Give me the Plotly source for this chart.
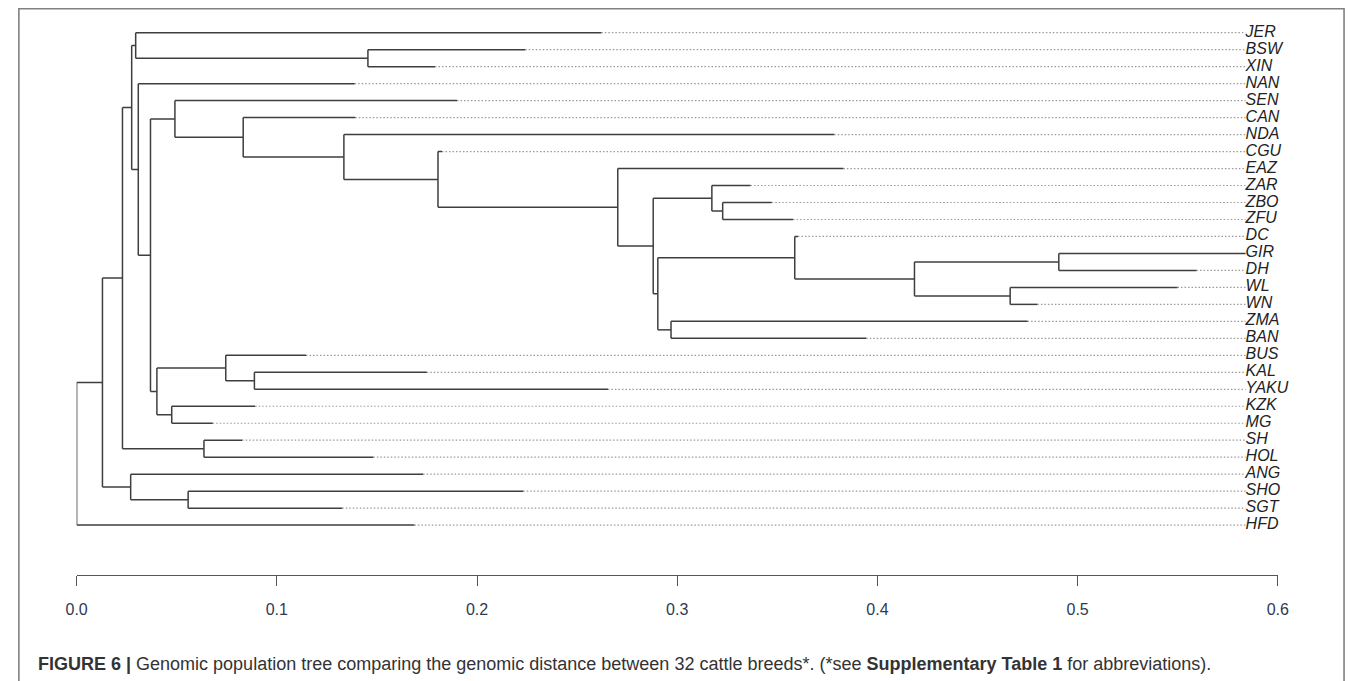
import plotly.graph_objects as go

# ---------------- data ----------------
leaves = ["JER", "BSW", "XIN", "NAN", "SEN", "CAN", "NDA", "CGU", "EAZ", "ZAR",
          "ZBO", "ZFU", "DC", "GIR", "DH", "WL", "WN", "ZMA", "BAN", "BUS",
          "KAL", "YAKU", "KZK", "MG", "SH", "HOL", "ANG", "SHO", "SGT", "HFD"]
leaf_depth = [0.2621, 0.2241, 0.1790, 0.1389, 0.1900, 0.1392, 0.3784, 0.1825, 0.3830, 0.3366,
              0.3472, 0.3579, 0.3603, 0.5839, 0.5594, 0.5499, 0.4799, 0.4750, 0.3944, 0.1146,
              0.1749, 0.2654, 0.0892, 0.0680, 0.0827, 0.1482, 0.1731, 0.2231, 0.1327, 0.1687]

# internal nodes: name -> (child_a, child_b)
node_children = {
    "root": ("N1", "HFD"),
    "N1": ("N2", "Nang"),
    "N2": ("N3", "Nsh"),
    "N3": ("Njer", "N4"),
    "Njer": ("JER", "Nbsw"),
    "Nbsw": ("BSW", "XIN"),
    "N4": ("NAN", "N5"),
    "N5": ("N6", "Ntau"),
    "N6": ("SEN", "N7"),
    "N7": ("CAN", "N8"),
    "N8": ("NDA", "N9"),
    "N9": ("CGU", "N10"),
    "N10": ("EAZ", "N11"),
    "N11": ("Nzar", "N12"),
    "Nzar": ("ZAR", "Nzbo"),
    "Nzbo": ("ZBO", "ZFU"),
    "N12": ("N13", "Nzma"),
    "N13": ("DC", "N14"),
    "N14": ("Ngir", "Nwl"),
    "Ngir": ("GIR", "DH"),
    "Nwl": ("WL", "WN"),
    "Nzma": ("ZMA", "BAN"),
    "Ntau": ("Nbus", "Nkzk"),
    "Nbus": ("BUS", "Nkal"),
    "Nkal": ("KAL", "YAKU"),
    "Nkzk": ("KZK", "MG"),
    "Nsh": ("SH", "HOL"),
    "Nang": ("ANG", "Nsho"),
    "Nsho": ("SHO", "SGT"),
}
node_depth = {
    "root": 0.0, "N1": 0.0129, "N2": 0.0229, "N3": 0.0275, "Njer": 0.0295,
    "Nbsw": 0.1455, "N4": 0.0308, "N5": 0.0369, "N6": 0.0491, "N7": 0.0832,
    "N8": 0.1335, "N9": 0.1805, "N10": 0.2703, "N11": 0.2880, "Nzar": 0.3173,
    "Nzbo": 0.3227, "N12": 0.2903, "N13": 0.3587, "N14": 0.4185, "Ngir": 0.4906,
    "Nwl": 0.4663, "Nzma": 0.2969, "Ntau": 0.0401, "Nbus": 0.0745, "Nkal": 0.0888,
    "Nkzk": 0.0475, "Nsh": 0.0636, "Nang": 0.0270, "Nsho": 0.0557,
}
label_depth = 0.5839
tick_vals = [0.0, 0.1, 0.2, 0.3, 0.4, 0.5, 0.6]
tick_text = ["0.0", "0.1", "0.2", "0.3", "0.4", "0.5", "0.6"]

# ---------------- layout computation ----------------
depth = dict(zip(leaves, leaf_depth))
depth.update(node_depth)
ypos = {name: i for i, name in enumerate(leaves)}


def get_y(n):
    if n in ypos:
        return ypos[n]
    a, b = node_children[n]
    ypos[n] = (get_y(a) + get_y(b)) / 2.0
    return ypos[n]


get_y("root")

sx, sy = [], []
for n, (a, b) in node_children.items():
    x = depth[n]
    sx += [x, x, None]
    sy += [ypos[a], ypos[b], None]
    for c in (a, b):
        sx += [x, depth[c], None]
        sy += [ypos[c], ypos[c], None]

dx, dy = [], []
for name in leaves:
    if depth[name] < label_depth - 0.001:
        dx += [depth[name], label_depth, None]
        dy += [ypos[name], ypos[name], None]

W, H = 1358, 681
x0_px, px_per_unit = 66.7, 2035.0
row0_px, row_step = 32.7, 16.98
axis_px, top_px = 575.0, 20.0
FONT = "Liberation Sans, Arial, sans-serif"

fig = go.Figure()
fig.add_trace(go.Scatter(x=dx, y=dy, mode="lines", hoverinfo="skip",
                         line=dict(color="#9a9a9a", width=1.2, dash="1.5px,2px")))
fig.add_trace(go.Scatter(x=sx, y=sy, mode="lines", hoverinfo="skip",
                         line=dict(color="#3e3e3e", width=1.5)))
fig.add_trace(go.Scatter(x=[label_depth] * len(leaves), y=[ypos[n] for n in leaves],
                         mode="text", text=["<i>%s</i>" % n for n in leaves],
                         textposition="middle right", cliponaxis=False, hoverinfo="skip",
                         textfont=dict(family=FONT, size=16, color="#222222")))

fig.update_layout(
    width=W, height=H, autosize=False,
    margin=dict(l=0, r=0, t=0, b=0),
    paper_bgcolor="white", plot_bgcolor="white",
    showlegend=False,
    xaxis=dict(domain=[x0_px / W, (x0_px + 0.6 * px_per_unit) / W],
               range=[0, 0.6], showgrid=False, zeroline=False,
               showline=True, linecolor="#555555", linewidth=1.4,
               ticks="outside", ticklen=10, tickwidth=1.4, tickcolor="#555555",
               tickvals=tick_vals, ticktext=tick_text, ticklabelstandoff=10,
               tickfont=dict(family=FONT, size=16, color="#2e3a52")),
    yaxis=dict(domain=[(H - axis_px) / H, (H - top_px) / H],
               range=[(axis_px - row0_px) / row_step, (top_px - row0_px) / row_step],
               visible=False),
    shapes=[dict(type="rect", xref="paper", yref="paper",
                 x0=8 / W, x1=1355 / W, y0=-0.1, y1=(H - 8.7) / H,
                 line=dict(color="#808080", width=1.6), fillcolor="rgba(0,0,0,0)")],
    annotations=[dict(xref="paper", yref="paper", x=25 / W, y=(H - 663.5) / H,
                      xanchor="left", yanchor="middle", showarrow=False,
                      text="<b>FIGURE 6 |</b> Genomic population tree comparing the genomic distance "
                           "between 32 cattle breeds*. (*see <b>Supplementary Table 1</b> for abbreviations).",
                      font=dict(family=FONT, size=18, color="#333333"))],
)

fig.write_html("out.html", config={"displayModeBar": False},
               post_script="document.body.style.margin='0';document.body.style.overflow='hidden';")
